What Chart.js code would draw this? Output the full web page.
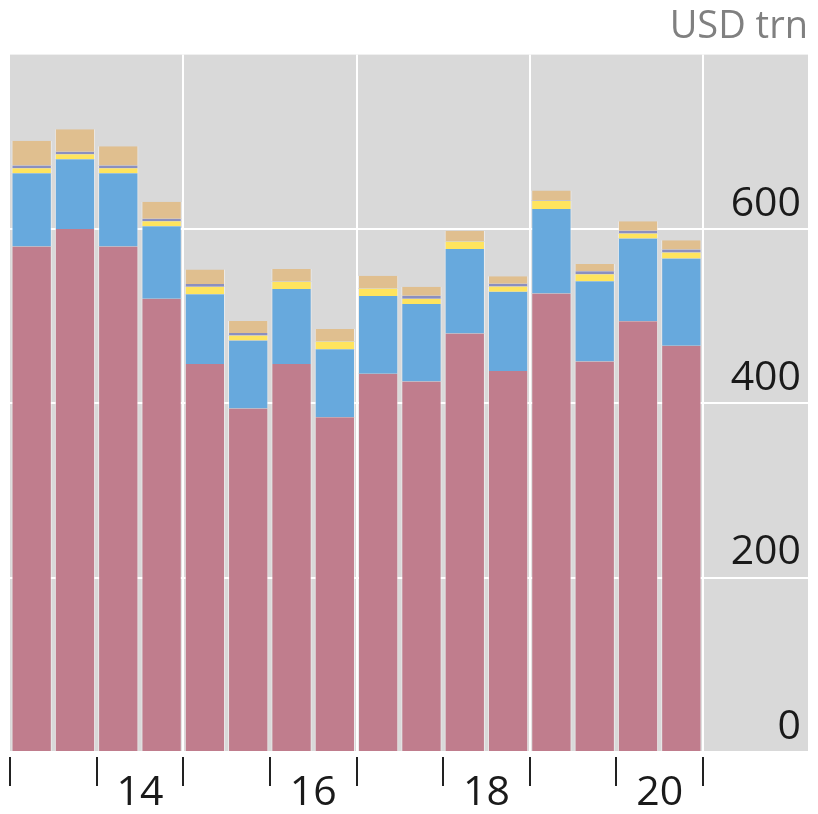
<!DOCTYPE html>
<html>
<head>
<meta charset="utf-8">
<script src="https://cdn.jsdelivr.net/npm/chart.js@4/dist/chart.umd.min.js"></script>
<style>
  html, body { margin: 0; padding: 0; background: #fff; }
  #wrap { width: 818px; height: 814px; }
</style>
</head>
<body>
<div id="wrap"><canvas id="grafico"></canvas></div>
<script>
// half-years 2013 H1 .. 2020 H2
const periodos = ['2013 H1', '2013 H2', '2014 H1', '2014 H2', '2015 H1', '2015 H2', '2016 H1', '2016 H2',
                  '2017 H1', '2017 H2', '2018 H1', '2018 H2', '2019 H1', '2019 H2', '2020 H1', '2020 H2'];

// USD trn, stacked bottom -> top
const serieRosa    = [580, 600, 580, 520, 445, 394, 445, 384, 434, 425, 480, 437, 526, 448, 494, 466];
const serieAzul    = [84, 80, 84, 83, 80, 78, 86, 78, 89, 89, 97, 91, 97, 92, 95, 100];
const serieAmarela = [5.7, 5.7, 5.7, 5.7, 8.8, 5.7, 8.4, 8.8, 8.8, 6, 8.5, 6.1, 9.2, 8, 5.8, 6.9];
const serieRoxa    = [3, 3, 3, 3, 3, 3, 0.3, 0.3, 0.3, 3.5, 0.3, 3, 0.3, 3.5, 3, 3.4];
const serieBege    = [28.4, 25.7, 22.3, 19.5, 16.8, 13.8, 14.5, 14.2, 14.1, 10.3, 12.2, 8.7, 11.5, 8.4, 11.1, 10.7];

const ticksY = [0, 200, 400, 600];

const fonte = '"Open Sans", "Noto Sans", sans-serif';

// gray panel, also behind the right-hand value labels
const fundoCinza = {
    id: 'fundoCinza',
    beforeDraw(chart) {
        const { ctx, chartArea, scales } = chart;
        ctx.save();
        ctx.fillStyle = '#d9d9d9';
        ctx.fillRect(chartArea.left, chartArea.top, scales.y.right - chartArea.left, chartArea.bottom - chartArea.top);
        ctx.restore();
    }
};

function serie(label, data, cor) {
    return {
        label: label,
        data: data,
        backgroundColor: cor,
        borderColor: 'rgba(255,255,255,0.55)',
        borderWidth: { left: 1, right: 1, top: 0, bottom: 0 },
        borderSkipped: false,
        barPercentage: 0.93,
        categoryPercentage: 1
    };
}

// the closing grid line (right edge) has no tick index of its own
function indice(ctx) {
    return ctx.index === undefined ? periodos.length : ctx.index;
}

new Chart(document.getElementById('grafico'), {
    type: 'bar',
    data: {
        labels: periodos,
        datasets: [
            serie('A', serieRosa, '#c07d8d'),
            serie('B', serieAzul, '#67a9dd'),
            serie('C', serieAmarela, '#ffe45e'),
            serie('D', serieRoxa, '#8b8fc0'),
            serie('E', serieBege, '#e0bf8f')
        ]
    },
    options: {
        responsive: true,
        maintainAspectRatio: false,
        animation: false,
        layout: { padding: { left: 10, right: 10, top: 0, bottom: 0 } },
        plugins: {
            legend: { display: false },
            tooltip: { enabled: false },
            title: {
                display: true,
                text: 'USD trn',
                align: 'end',
                color: '#808080',
                font: { family: fonte, size: 38, weight: 'normal' },
                padding: { top: 4, bottom: 5 }
            }
        },
        scales: {
            x: {
                stacked: true,
                border: { display: false },
                grid: {
                    offset: true,
                    lineWidth: 2,
                    color: ctx => (indice(ctx) % 4 === 0 && indice(ctx) > 0) ? '#ffffff' : 'rgba(0,0,0,0)',
                    tickColor: ctx => (indice(ctx) % 2 === 0) ? '#222222' : 'rgba(0,0,0,0)',
                    tickLength: 34,
                    tickWidth: 2,
                    tickBorderDash: [0, 5, 29, 100]
                },
                ticks: {
                    autoSkip: false,
                    maxRotation: 0,
                    minRotation: 0,
                    padding: -17,
                    labelOffset: 21.6,
                    color: '#1a1a1a',
                    font: { family: fonte, size: 41 },
                    callback: function (value, index) {
                        if (index % 4 !== 2) return '';
                        return this.getLabelForValue(value).slice(2, 4);
                    }
                },
                afterFit: scale => { scale.height = 62; }
            },
            y: {
                stacked: true,
                position: 'right',
                min: 0,
                max: 800,
                border: { display: false },
                afterBuildTicks: scale => {
                    scale.ticks = ticksY.map(v => ({ value: v }));
                },
                grid: {
                    color: '#ffffff',
                    lineWidth: 2,
                    drawTicks: true,
                    tickLength: 105,
                    tickColor: '#ffffff'
                },
                ticks: {
                    mirror: true,
                    padding: 98,
                    labelOffset: -25,
                    color: '#1a1a1a',
                    font: { family: fonte, size: 41 }
                },
                afterFit: scale => {
                    scale.width = 105;
                    scale.paddingTop = 0;
                    scale.paddingBottom = 0;
                }
            }
        }
    },
    plugins: [fundoCinza]
});
</script>
</body>
</html>
